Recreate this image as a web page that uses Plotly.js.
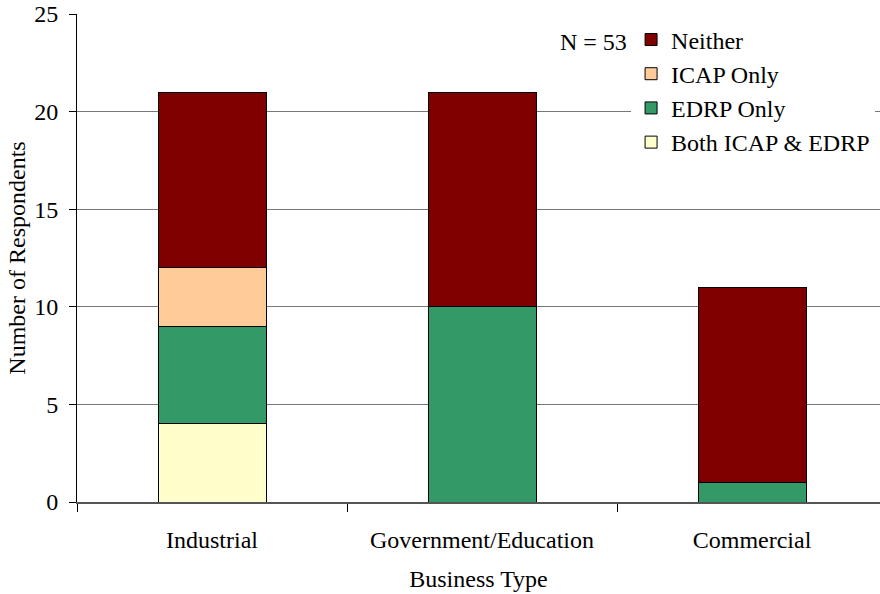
<!DOCTYPE html>
<html>
<head>
<meta charset="utf-8">
<script src="https://cdn.plot.ly/plotly-3.0.1.min.js"></script>
<style>html,body{margin:0;padding:0;background:#fff;}#chart{width:880px;height:594px;}</style>
</head>
<body>
<div id="chart"></div>
<script>
const categories = ["Industrial", "Government/Education", "Commercial"];
const both = [4, 0, 0];
const edrpOnly = [5, 10, 1];
const icapOnly = [3, 0, 0];
const neither = [9, 11, 10];
const yTicks = [0, 5, 10, 15, 20, 25];

const FONT = "'Liberation Serif', 'Times New Roman', serif";
const line = {color: "#000", width: 1};

const traces = [
  {name: "Both ICAP &amp; EDRP", y: both, color: "#FFFFCC"},
  {name: "EDRP Only", y: edrpOnly, color: "#339966"},
  {name: "ICAP Only", y: icapOnly, color: "#FFCC99"},
  {name: "Neither", y: neither, color: "#800000"}
].map(s => ({
  type: "bar", name: s.name, x: categories, y: s.y, width: 0.4,
  marker: {color: s.color, line: line}, hoverinfo: "none"
}));

const layout = {
  width: 880, height: 594,
  margin: {l: 77, r: 0, t: 14, b: 92},
  barmode: "stack",
  paper_bgcolor: "#fff", plot_bgcolor: "#fff",
  font: {family: FONT, size: 24, color: "#000"},
  showlegend: true,
  legend: {
    x: 0.6900, y: 0.993, xanchor: "left", yanchor: "top",
    bgcolor: "#fff", borderwidth: 0, traceorder: "reversed",
    font: {family: FONT, size: 24, color: "#000"},
    itemclick: false, tracegroupgap: 0
  },
  xaxis: {
    type: "category", range: [-0.5, 2.474], fixedrange: true,
    showline: true, linecolor: "#555", linewidth: 1.5,
    ticks: "outside", tickson: "boundaries", ticklen: 8, tickcolor: "#000",
    ticklabelstandoff: 16,
    showgrid: false, zeroline: false,
    tickfont: {family: FONT, size: 24},
    title: {text: "Business Type", font: {family: FONT, size: 24}, standoff: 18}
  },
  yaxis: {
    range: [0, 25], tickvals: yTicks, ticktext: yTicks.map(String), fixedrange: true,
    showline: true, linecolor: "#000", linewidth: 1,
    ticks: "outside", ticklen: 7, tickcolor: "#000",
    ticklabelstandoff: 6,
    showgrid: true, gridcolor: "#777", gridwidth: 1, zeroline: false,
    tickfont: {family: FONT, size: 24},
    title: {text: "Number of Respondents", font: {family: FONT, size: 24}, standoff: 1}
  },
  annotations: [{
    xref: "paper", yref: "paper", x: 0.688, y: 0.9426,
    xanchor: "right", yanchor: "middle", showarrow: false,
    text: "N = 53", font: {family: FONT, size: 24, color: "#000"}
  }]
};

Plotly.newPlot("chart", traces, layout, {staticPlot: true, displayModeBar: false});
</script>
</body>
</html>
